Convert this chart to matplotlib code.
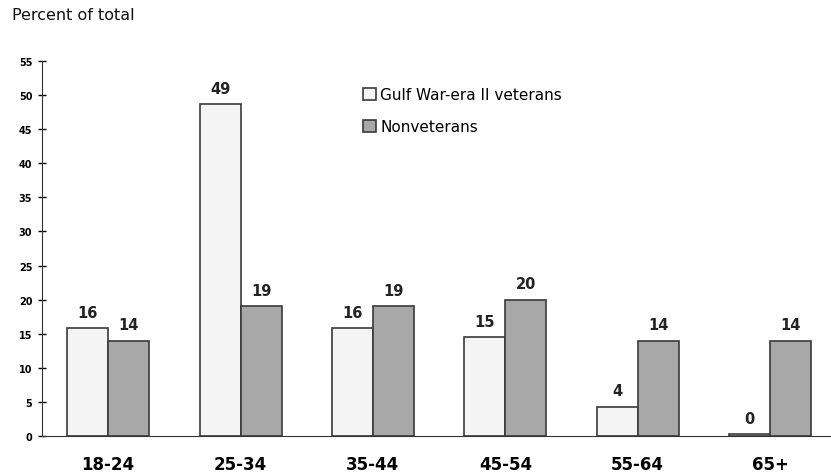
import matplotlib.pyplot as plt
import numpy as np

age_groups = ['18-24', '25-34', '35-44', '45-54', '55-64', '65+']
gulf_war_vets = [15.8, 48.7, 15.8, 14.5, 4.3, 0.3]
gulf_labels = ['16', '49', '16', '15', '4', '0']
nonveterans = [14.0, 19.0, 19.0, 20.0, 14.0, 14.0]
non_labels = ['14', '19', '19', '20', '14', '14']

fig = plt.figure(figsize=(8.31, 4.77), dpi=100)
ax = fig.add_axes([42 / 831, 1 - 437 / 477, 1 - 42 / 831, 375 / 477])

x = np.arange(len(age_groups))
w = 0.31
b1 = ax.bar(x - w / 2, gulf_war_vets, w, color='#f4f4f4', edgecolor='#3a3a3a',
            linewidth=1.2, label='Gulf War-era II veterans')
b2 = ax.bar(x + w / 2, nonveterans, w, color='#a8a8a8', edgecolor='#3a3a3a',
            linewidth=1.2, label='Nonveterans')

for rect, lab in zip(b1, gulf_labels):
    ax.text(rect.get_x() + rect.get_width() / 2, rect.get_height() + 1.2, lab,
            ha='center', va='bottom', fontsize=10.5, fontweight='bold', color='#222')
for rect, lab in zip(b2, non_labels):
    ax.text(rect.get_x() + rect.get_width() / 2, rect.get_height() + 1.2, lab,
            ha='center', va='bottom', fontsize=10.5, fontweight='bold', color='#222')

ax.set_xlim(-0.5, 5.46)
ax.set_ylim(0, 55)
ax.set_yticks(range(0, 56, 5))
ax.tick_params(axis='y', direction='inout', length=6, width=1, labelsize=7, pad=4)
for t in ax.get_yticklabels():
    t.set_fontweight('bold')
ax.set_xticks(x)
ax.set_xticklabels(age_groups, fontsize=12, fontweight='bold')
ax.tick_params(axis='x', length=0, pad=14)

ax.spines['top'].set_visible(False)
ax.spines['right'].set_visible(False)
ax.spines['left'].set_color('#333')
ax.spines['bottom'].set_color('#333')

fig.text(12 / 831, 1 - 16 / 477, 'Percent of total', fontsize=11.5, va='center',
         ha='left', color='#111')

ax.legend(loc='upper left', bbox_to_anchor=(0.39, 0.966), frameon=False,
          fontsize=11, handlelength=0.8, handleheight=0.8, handletextpad=0.3,
          labelspacing=1.1)

fig.savefig('out.png', dpi=100)
